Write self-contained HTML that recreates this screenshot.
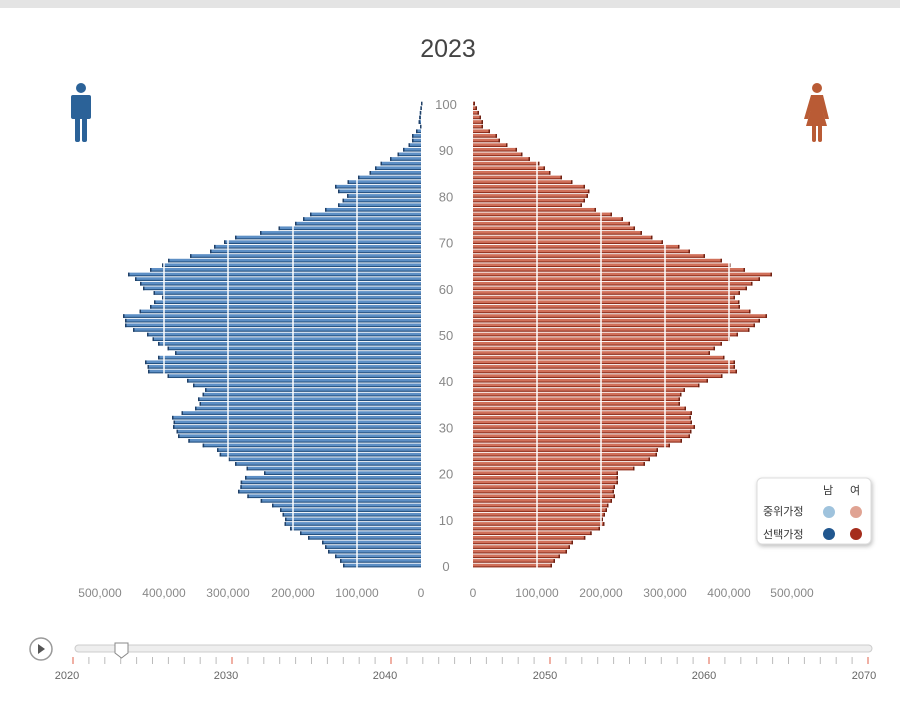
<!DOCTYPE html>
<html><head><meta charset="utf-8"><style>
body{margin:0;background:#fff;width:900px;height:706px;overflow:hidden;font-family:"Liberation Sans","Noto Sans CJK KR",sans-serif}
</style></head><body>
<svg id="s" width="900" height="706" xmlns="http://www.w3.org/2000/svg" font-family="Liberation Sans, Noto Sans CJK KR, sans-serif">
<rect x="0" y="0" width="900" height="8" fill="#e4e4e4"/>
<text x="448" y="57" text-anchor="middle" font-size="25" fill="#444">2023</text>
<g fill="#2b6298">
<circle cx="81" cy="88" r="5"/>
<rect x="71" y="95" width="20" height="24" rx="2"/>
<rect x="75" y="110" width="5" height="32" rx="2"/>
<rect x="82" y="110" width="5" height="32" rx="2"/>
</g>
<g fill="#b95b35">
<circle cx="817" cy="88" r="5"/>
<path d="M811 95 h12 l6 24 h-4 l-3-10 l5 17 h-21 l5-17 l-3 10 h-4z"/>
<rect x="812" y="124" width="4" height="18" rx="2"/>
<rect x="818" y="124" width="4" height="18" rx="2"/>
</g>
<g id="bars"></g>
<g id="grid" stroke="#fff" stroke-width="1.5"></g>
<g font-size="13" fill="#888" id="ylab"></g>
<g font-size="12" fill="#888" text-anchor="middle">
<text x="100" y="597">500,000</text><text x="164" y="597">400,000</text><text x="228" y="597">300,000</text><text x="293" y="597">200,000</text><text x="357" y="597">100,000</text><text x="421" y="597">0</text>
<text x="473" y="597">0</text><text x="537" y="597">100,000</text><text x="601" y="597">200,000</text><text x="665" y="597">300,000</text><text x="729" y="597">400,000</text><text x="792" y="597">500,000</text>
</g>
<rect x="757" y="478" width="114" height="66" rx="5" fill="#fff" stroke="#ddd" style="filter:drop-shadow(1px 2px 2px rgba(0,0,0,.25))"/>
<g font-size="11" fill="#333">
<text x="823" y="494">남</text><text x="850" y="494">여</text>
<text x="763" y="515">중위가정</text><text x="763" y="538">선택가정</text>
</g>
<circle cx="829" cy="512" r="6" fill="#9fc3dd"/><circle cx="856" cy="512" r="6" fill="#e0a393"/>
<circle cx="829" cy="534" r="6" fill="#21578f"/><circle cx="856" cy="534" r="6" fill="#a52d1c"/>
<circle cx="41" cy="649" r="11" fill="#fff" stroke="#999" stroke-width="1.5"/>
<path d="M38 644 l7 5 l-7 5z" fill="#555"/>
<rect x="75" y="645" width="797" height="7" rx="3.5" fill="#eee" stroke="#ccc"/>
<g id="ticks"></g>
<path d="M115 643 h13 v10 l-6.5 5 l-6.5-5z" fill="#fff" stroke="#888"/>
<g font-size="11" fill="#666" text-anchor="middle">
<text x="67" y="679">2020</text><text x="226" y="679">2030</text><text x="385" y="679">2040</text><text x="545" y="679">2050</text><text x="704" y="679">2060</text><text x="864" y="679">2070</text>
</g>
</svg>
<script>
var NS="http://www.w3.org/2000/svg";
function el(p,t,a){var e=document.createElementNS(NS,t);for(var k in a)e.setAttribute(k,a[k]);p.appendChild(e);return e;}
function interp(kp,a){for(var i=0;i<kp.length-1;i++){if(a>=kp[i][0]&&a<=kp[i+1][0]){var t=(a-kp[i][0])/(kp[i+1][0]-kp[i][0]);return kp[i][1]+t*(kp[i+1][1]-kp[i][1]);}}return kp[kp.length-1][1];}
var M=[[0,345],[5,320],[8,290],[10,283],[12,282],[13,272],[16,238],[19,245],[20,262],[22,235],[25,215],[28,178],[30,175],[32,172],[34,195],[36,200],[38,205],[40,185],[42,150],[44,145],[46,175],[48,160],[50,145],[52,125],[54,125],[56,150],[58,162],[60,145],[62,135],[63,130],[64,150],[66,170],[68,210],[70,222],[71,235],[72,262],[74,295],[75,305],[76,310],[78,340],[80,345],[81,340],[82,335],[84,360],[86,375],[88,390],[90,405],[92,412],[95,418],[100,421]];
var F=[[0,550],[5,575],[8,600],[10,605],[12,605],[14,612],[18,616],[20,620],[22,645],[25,660],[28,690],[30,693],[33,690],[36,678],[38,685],[40,710],[42,735],[44,735],[46,710],[48,720],[50,740],[52,755],[54,765],[56,740],[58,735],[60,745],[62,760],[63,770],[64,745],[66,720],[68,690],[70,665],[72,640],[74,630],[76,612],[78,580],[80,590],[82,585],[84,560],[86,545],[88,530],[90,515],[92,500],[95,485],[100,475]];
var g=document.getElementById("bars"),step=(566-104)/100;
for(var a=0;a<=100;a++){
 var y=566-a*step-2.3;
 var mx=interp(M,a),fx=interp(F,a);
 var jm=(a%3==0?-2:a%5==0?2:0), jf=(a%3==0?2:a%5==0?-2:0);
 if(a<96){mx+=jm;fx+=jf;}
 el(g,"rect",{x:mx,y:y,width:421-mx,height:3.4,fill:"#5d8fc5"});
 el(g,"rect",{x:mx,y:y+2.6,width:421-mx,height:1.1,fill:"#24507f"});
 el(g,"rect",{x:mx,y:y,width:1.5,height:3.7,fill:"#1f3f66"});
 el(g,"rect",{x:473,y:y,width:fx-473,height:3.4,fill:"#d0705a"});
 el(g,"rect",{x:473,y:y+2.6,width:fx-473,height:1.1,fill:"#8e2e1c"});
 el(g,"rect",{x:fx-1.5,y:y,width:1.5,height:3.7,fill:"#6e2012"});
}
var gr=document.getElementById("grid");
[357,293,228,164].forEach(function(x){el(gr,"line",{x1:x,y1:104,x2:x,y2:568});});
[537,601,665,729].forEach(function(x){el(gr,"line",{x1:x,y1:104,x2:x,y2:568});});
var yl=document.getElementById("ylab");
for(var v=0;v<=100;v+=10){var t=el(yl,"text",{x:446,y:566-v*step+5,"text-anchor":"middle"});t.textContent=v;}
var tk=document.getElementById("ticks");
for(var i=0;i<=50;i++){var x=73+i*(868-73)/50;var red=i%10==0;el(tk,"line",{x1:x,y1:657,x2:x,y2:664,stroke:red?"#e0604a":"#bbb","stroke-width":1});}
</script>
</body></html>
